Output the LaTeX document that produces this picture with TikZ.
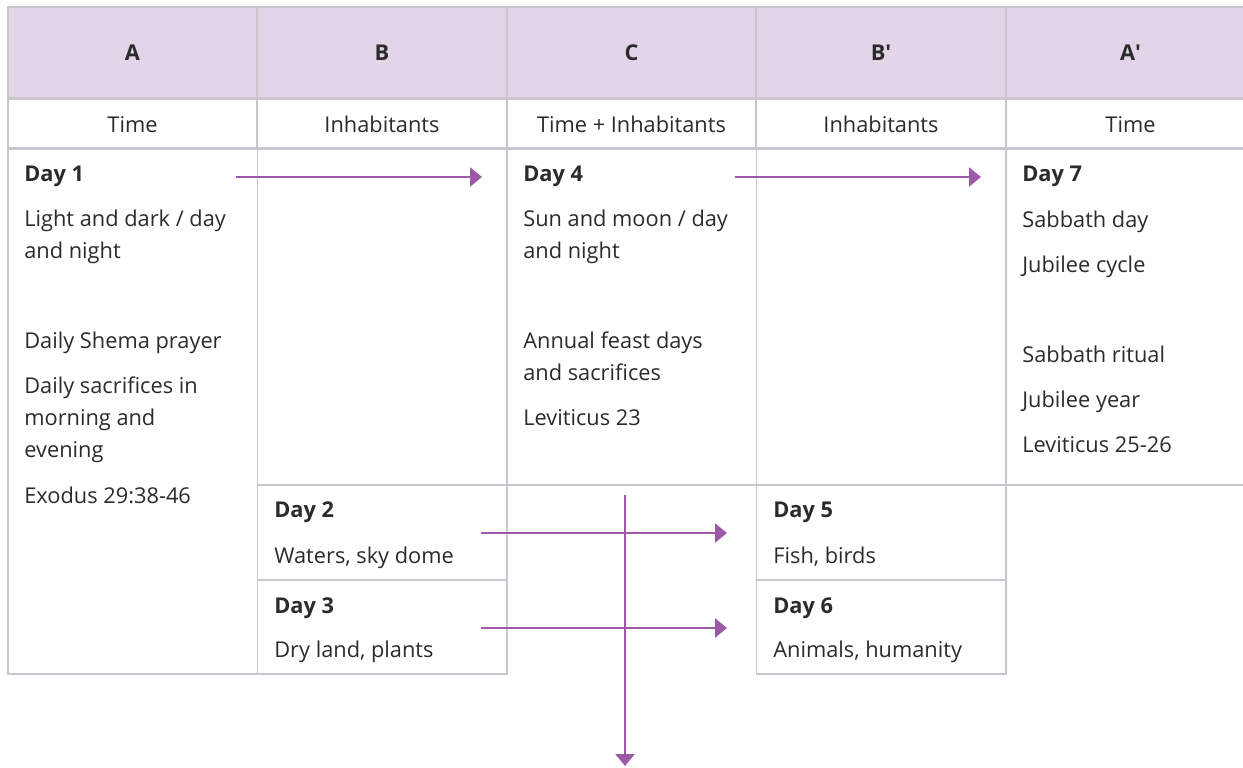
\documentclass[tikz,border=0pt]{standalone}
\usepackage{fontspec}
\setmainfont{Open Sans}
\usetikzlibrary{arrows.meta,positioning}
\definecolor{lilac}{HTML}{E2D5E8}
\definecolor{plum}{HTML}{9C59A8}
\definecolor{gridgray}{HTML}{C9C7CD}
\definecolor{ink}{HTML}{2B2B2B}
\tikzset{
  headcell/.style={
    rectangle, draw=gridgray, fill=lilac, line width=0.85pt,
    minimum width=4.99cm, minimum height=1.82cm,
    font=\fontsize{12.4}{18.1}\selectfont\bfseries, text=ink,
    inner sep=0pt
  },
  subcell/.style={
    rectangle, draw=gridgray, fill=white, line width=0.85pt,
    minimum width=4.99cm, minimum height=1.0cm,
    font=\fontsize{12.4}{18.1}\selectfont, text=ink,
    inner sep=0pt
  },
  gridline/.style={draw=gridgray, line width=0.85pt},
  daytext/.style={
    anchor=base west, inner sep=0pt,
    font=\fontsize{12.4}{18.1}\selectfont\bfseries, text=ink
  },
  % base = baseline of the last line
  bodytext/.style={
    anchor=base west, inner sep=0pt, align=left,
    font=\fontsize{12.4}{18.1}\selectfont, text=ink
  },
  flowarrow/.style={
    -{Triangle[length=0.24cm, width=0.38cm]}, line width=1.4pt, color=#1
  },
  flowarrow/.default=plum,
}

\begin{document}
\begin{tikzpicture}[x=0.02cm, y=-0.02cm]
  \useasboundingbox (0,0) rectangle (1243,767);
  \clip (0,0) rectangle (1243,767);

  % ── Header rows ────────────────
  \node[headcell] (hA) at (132.5,52.5) {A};
  \node[headcell] (hB) at (382,52.5) {B};
  \node[headcell] (hC) at (631.5,52.5) {C};
  \node[headcell] (hBp) at (881,52.5) {B′};
  \node[headcell] (hAp) at (1130.5,52.5) {A′};
  \node[subcell, below=0pt of hA] (sA) {Time};
  \node[subcell, below=0pt of hB] (sB) {Inhabitants};
  \node[subcell, below=0pt of hC] (sC) {Time + Inhabitants};
  \node[subcell, below=0pt of hBp] (sBp) {Inhabitants};
  \node[subcell, below=0pt of hAp] (sAp) {Time};

  % ── Body cells ─────────────────
  \draw[gridline] (8,148) rectangle (257.5,674);
  \draw[gridline] (257.5,148) rectangle (507,485);
  \draw[gridline] (257.5,485) rectangle (507,580);
  \draw[gridline] (257.5,580) rectangle (507,674);
  \draw[gridline] (507,148) rectangle (756.5,485);
  \draw[gridline] (756.5,148) rectangle (1006,485);
  \draw[gridline] (756.5,485) rectangle (1006,580);
  \draw[gridline] (756.5,580) rectangle (1006,674);
  \draw[gridline] (1006,148) rectangle (1256,485);

  % ── Column A ───────────────────
  \node[daytext] (day1) at (24,181) {Day 1};
  \node[bodytext] (a1) at (24,258) {Light and dark / day\\and night};
  \node[bodytext] (a2) at (24,348) {Daily Shema prayer};
  \node[bodytext] (a3) at (24,457) {Daily sacrifices in\\morning and\\evening};
  \node[bodytext] (a4) at (24,503) {Exodus 29:38-46};

  % ── Column B ───────────────────
  \node[daytext] (day2) at (274,517) {Day 2};
  \node[bodytext] (b1) at (274,563) {Waters, sky dome};
  \node[daytext] (day3) at (274,613) {Day 3};
  \node[bodytext] (b2) at (274,657) {Dry land, plants};

  % ── Column C ───────────────────
  \node[daytext] (day4) at (523,181) {Day 4};
  \node[bodytext] (c1) at (523,258) {Sun and moon / day\\and night};
  \node[bodytext] (c2) at (523,380) {Annual feast days\\and sacrifices};
  \node[bodytext] (c3) at (523,425) {Leviticus 23};

  % ── Column B' ──────────────────
  \node[daytext] (day5) at (773,517) {Day 5};
  \node[bodytext] (bp1) at (773,563) {Fish, birds};
  \node[daytext] (day6) at (773,613) {Day 6};
  \node[bodytext] (bp2) at (773,657) {Animals, humanity};

  % ── Column A' ──────────────────
  \node[daytext] (day7) at (1022,181) {Day 7};
  \node[bodytext] (ap1) at (1022,227) {Sabbath day};
  \node[bodytext] (ap2) at (1022,272) {Jubilee cycle};
  \node[bodytext] (ap3) at (1022,362) {Sabbath ritual};
  \node[bodytext] (ap4) at (1022,407) {Jubilee year};
  \node[bodytext] (ap5) at (1022,452) {Leviticus 25-26};

  % ── Arrows ─────────────────────
  \coordinate (t1s) at (236,177);
  \coordinate (t1e) at (482,177);
  \coordinate (t2s) at (735,177);
  \coordinate (t2e) at (981,177);
  \coordinate (w2s) at (481,533);
  \coordinate (w5e) at (727,533);
  \coordinate (w3s) at (481,628);
  \coordinate (w6e) at (727,628);
  \coordinate (vs) at (625,495);
  \coordinate (ve) at (625,766);
  \draw[flowarrow] (t1s) -- (t1e);
  \draw[flowarrow] (t2s) -- (t2e);
  \draw[flowarrow] (w2s) -- (w5e);
  \draw[flowarrow] (w3s) -- (w6e);
  \draw[flowarrow] (vs) -- (ve);
\end{tikzpicture}
\end{document}
